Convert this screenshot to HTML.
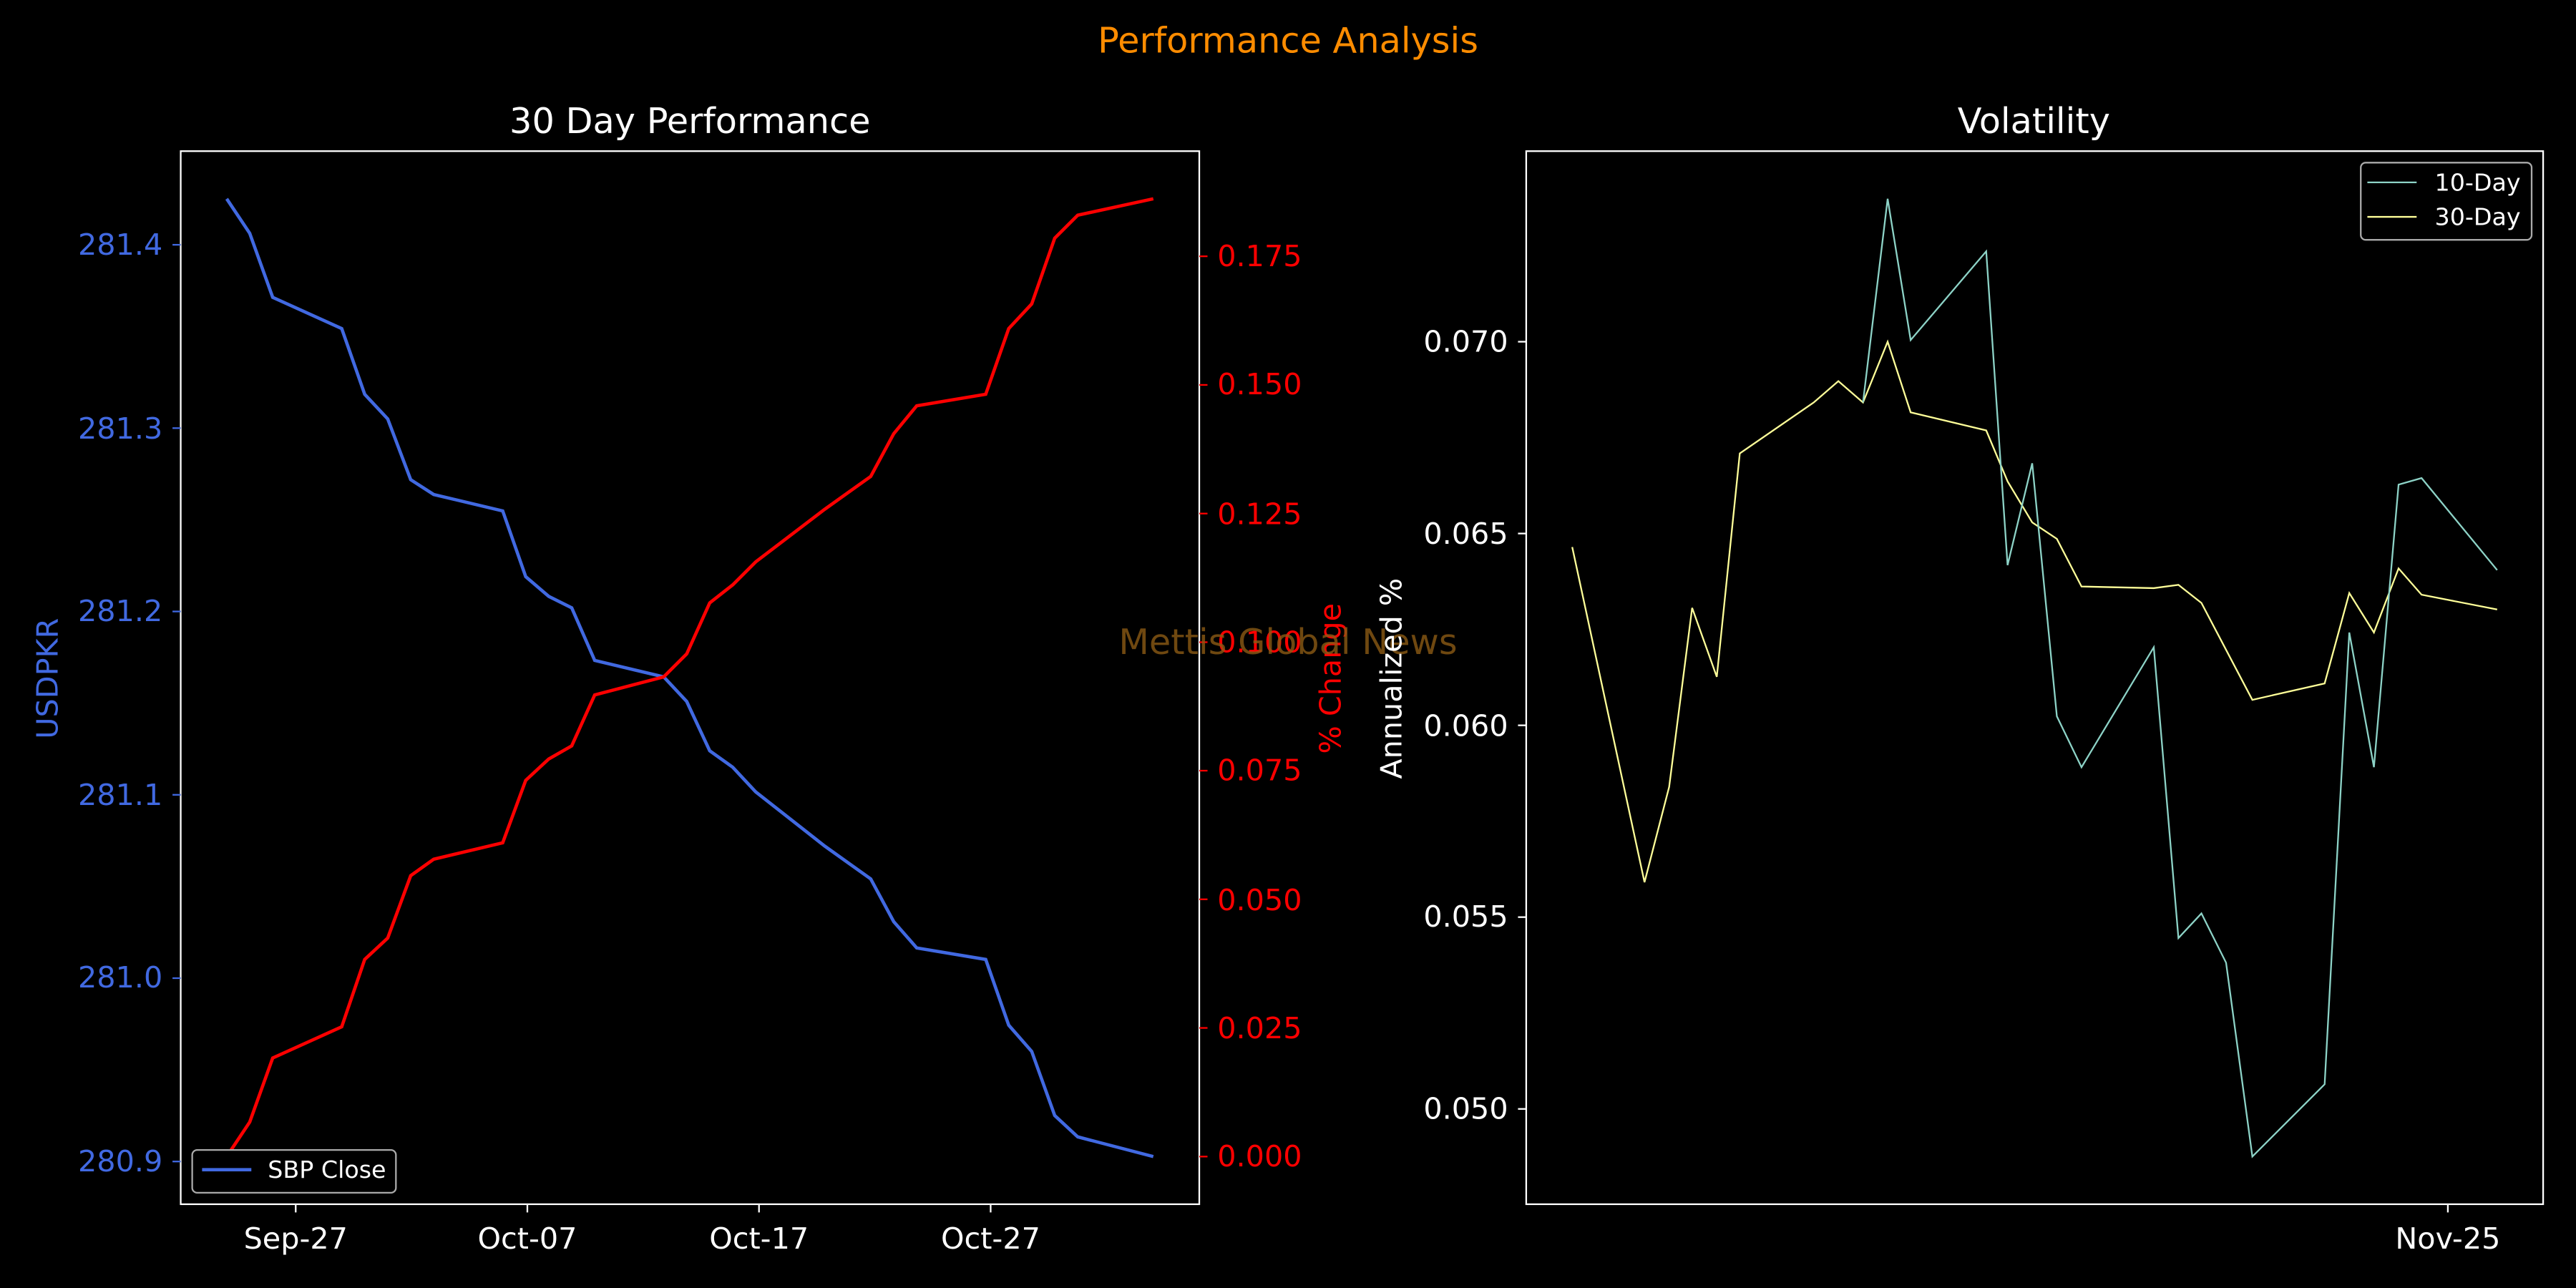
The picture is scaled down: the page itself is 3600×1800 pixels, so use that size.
<!DOCTYPE html>
<html><head><meta charset="utf-8"><style>html,body{margin:0;padding:0;background:#000;}svg{display:block}</style></head>
<body>
<svg width="3600" height="1800" viewBox="0 0 1568 784" xmlns="http://www.w3.org/2000/svg" font-family="DejaVu Sans, Liberation Sans, sans-serif">
<rect width="1568" height="784" fill="#000"/>
<text x="784" y="32" fill="#ff8c00" font-size="21.5" text-anchor="middle">Performance Analysis</text>
<text x="420" y="81" fill="#fff" font-size="21.5" text-anchor="middle">30 Day Performance</text>
<text x="1238" y="81" fill="#fff" font-size="21.5" text-anchor="middle">Volatility</text>
<!-- left axes -->
<rect x="110" y="92" width="620" height="641" fill="none" stroke="#fff" stroke-width="1"/>
<g stroke="#fff" stroke-width="1">
<line x1="180" y1="733" x2="180" y2="738"/><line x1="321" y1="733" x2="321" y2="738"/><line x1="462" y1="733" x2="462" y2="738"/><line x1="603" y1="733" x2="603" y2="738"/>
</g>
<g fill="#fff" font-size="18" text-anchor="middle">
<text x="180" y="760">Sep-27</text><text x="321" y="760">Oct-07</text><text x="462" y="760">Oct-17</text><text x="603" y="760">Oct-27</text>
</g>
<g stroke="#4169e1"><line x1="105" y1="149" x2="110" y2="149"/><line x1="105" y1="260.6" x2="110" y2="260.6"/><line x1="105" y1="372.2" x2="110" y2="372.2"/><line x1="105" y1="483.8" x2="110" y2="483.8"/><line x1="105" y1="595.4" x2="110" y2="595.4"/><line x1="105" y1="707" x2="110" y2="707"/></g>
<g fill="#4169e1" font-size="18" text-anchor="end">
<text x="99" y="155">281.4</text><text x="99" y="267">281.3</text><text x="99" y="378">281.2</text><text x="99" y="490">281.1</text><text x="99" y="601">281.0</text><text x="99" y="713">280.9</text>
</g>
<text transform="translate(35,413) rotate(-90)" fill="#4169e1" font-size="18" text-anchor="middle">USDPKR</text>
<g stroke="#f00"><line x1="730" y1="156" x2="735" y2="156"/><line x1="730" y1="234.3" x2="735" y2="234.3"/><line x1="730" y1="312.6" x2="735" y2="312.6"/><line x1="730" y1="390.9" x2="735" y2="390.9"/><line x1="730" y1="469.1" x2="735" y2="469.1"/><line x1="730" y1="547.4" x2="735" y2="547.4"/><line x1="730" y1="625.7" x2="735" y2="625.7"/><line x1="730" y1="704" x2="735" y2="704"/></g>
<g fill="#f00" font-size="18">
<text x="741" y="162">0.175</text><text x="741" y="240">0.150</text><text x="741" y="319">0.125</text><text x="741" y="397">0.100</text><text x="741" y="475">0.075</text><text x="741" y="554">0.050</text><text x="741" y="632">0.025</text><text x="741" y="710">0.000</text>
</g>
<text transform="translate(816,413) rotate(-90)" fill="#f00" font-size="18" text-anchor="middle">% Change</text>
<polyline fill="none" stroke="#4169e1" stroke-width="2" points="138,121 152,142 166,181 208,200 222,240 236,255 250,292 264,301 306,311 320,351 334,363 348,370 362,402 404,412 418,427 432,457 446,467 460,482 502,515 516,525 530,535 544,561 558,577 600,584 614,624 628,640 642,679 656,692 702,704"/>
<polyline fill="none" stroke="#f00" stroke-width="2" points="138,704 152,683 166,644 208,625 222,584 236,571 250,533 264,523 306,513 320,475 334,462 348,454 362,423 404,412 418,398 432,367 446,356 460,342 502,310 516,300 530,290 544,264 558,247 600,240 614,200 628,185 642,145 656,131 702,121"/>
<rect x="117" y="700" width="124" height="26" rx="3" fill="#000" stroke="#aaa" stroke-width="1"/>
<line x1="123" y1="712" x2="153" y2="712" stroke="#4169e1" stroke-width="2"/>
<text x="163" y="717" fill="#fff" font-size="14.5">SBP Close</text>
<text x="784" y="398" fill="#8b5a14" fill-opacity="0.8" font-size="21.5" text-anchor="middle">Mettis Global News</text>
<!-- right axes -->
<rect x="929" y="92" width="619" height="641" fill="none" stroke="#fff" stroke-width="1"/>
<line x1="1490" y1="733" x2="1490" y2="738" stroke="#fff"/>
<text x="1490" y="760" fill="#fff" font-size="18" text-anchor="middle">Nov-25</text>
<g stroke="#fff"><line x1="924" y1="208" x2="929" y2="208"/><line x1="924" y1="324.75" x2="929" y2="324.75"/><line x1="924" y1="441.5" x2="929" y2="441.5"/><line x1="924" y1="558.25" x2="929" y2="558.25"/><line x1="924" y1="675" x2="929" y2="675"/></g>
<g fill="#fff" font-size="18" text-anchor="end">
<text x="918" y="214">0.070</text><text x="918" y="331">0.065</text><text x="918" y="448">0.060</text><text x="918" y="564">0.055</text><text x="918" y="681">0.050</text>
</g>
<text transform="translate(853,413) rotate(-90)" fill="#fff" font-size="18" text-anchor="middle">Annualized %</text>
<polyline fill="none" stroke="#ffff99" stroke-width="1" points="957,333 1001,537 1016,479 1030,370 1045,412 1059,276 1104,245 1119,232 1134,245 1149,208 1163,251 1209,262 1222,293 1237,318 1252,328 1267,357 1311,358 1326,356 1340,367 1371,426 1415,416 1430,361 1445,385 1460,346 1474,362 1520,371"/>
<polyline fill="none" stroke="#8dd3c7" stroke-width="1" points="1134,245 1149,121 1163,207 1209,153 1222,344 1237,282 1252,436 1267,467 1311,394 1326,571 1340,556 1355,586 1371,704 1415,660 1430,385 1445,467 1460,295 1474,291 1520,347"/>
<rect x="1437" y="99" width="104" height="47" rx="3" fill="#000" stroke="#aaa" stroke-width="1"/>
<line x1="1441" y1="111" x2="1471" y2="111" stroke="#8dd3c7" stroke-width="1"/>
<line x1="1441" y1="132" x2="1471" y2="132" stroke="#ffff99" stroke-width="1"/>
<text x="1482" y="116" fill="#fff" font-size="14.5">10-Day</text>
<text x="1482" y="137" fill="#fff" font-size="14.5">30-Day</text>
</svg>
</body></html>
